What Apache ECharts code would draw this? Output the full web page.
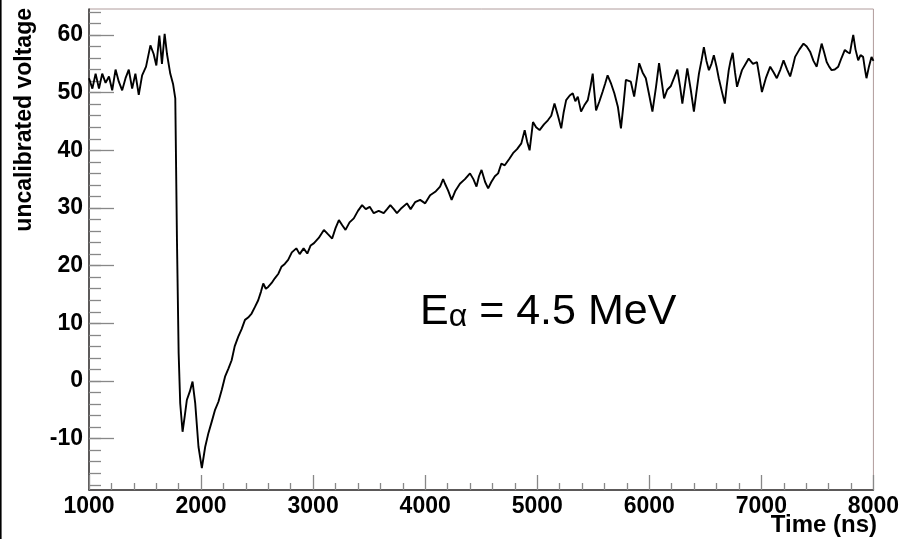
<!DOCTYPE html>
<html>
<head>
<meta charset="utf-8">
<script src="https://cdn.jsdelivr.net/npm/echarts@6/dist/echarts.min.js"></script>
<style>
html,body{margin:0;padding:0;background:#fff;}
#chart{width:902px;height:539px;}
</style>
</head>
<body>
<div id="chart"></div>
<script>
// Time samples (ns)
const times = [1000,1030,1059,1089,1118,1148,1178,1207,1237,1266,1296,1326,1355,1385,1414,1444,1474,1509,1548,1577,1601,1628,1651,1675,1696,1725,1750,1770,1785,1800,1814,1835,1855,1873,1900,1924,1948,1977,2007,2037,2066,2096,2125,2155,2185,2214,2245,2273,2300,2332,2362,2392,2420,2451,2480,2510,2535,2555,2578,2599,2630,2658,2690,2717,2747,2777,2810,2850,2880,2915,2948,2978,3008,3050,3096,3130,3170,3200,3230,3260,3289,3325,3363,3400,3437,3470,3505,3541,3585,3630,3660,3689,3720,3748,3790,3837,3870,3910,3955,4000,4044,4090,4133,4160,4177,4205,4236,4270,4310,4355,4400,4430,4458,4480,4503,4535,4562,4590,4622,4651,4680,4710,4750,4784,4820,4858,4888,4910,4932,4962,4990,5021,5060,5095,5125,5154,5185,5214,5235,5258,5290,5317,5340,5362,5391,5420,5451,5475,5495,5510,5525,5555,5584,5605,5628,5660,5688,5720,5747,5770,5791,5835,5865,5890,5910,5940,5969,6000,6028,6060,6087,6110,6132,6160,6191,6220,6250,6275,6295,6320,6339,6370,6398,6420,6443,6465,6487,6510,6532,6555,6576,6600,6620,6650,6674,6690,6709,6725,6744,6765,6783,6805,6827,6860,6887,6925,6961,6985,7005,7040,7079,7110,7138,7170,7198,7230,7257,7280,7301,7340,7376,7405,7435,7465,7494,7515,7538,7560,7583,7605,7627,7655,7686,7715,7745,7770,7790,7805,7820,7840,7864,7885,7908,7925,7938,7960,7983,8000];
// Uncalibrated voltage values
const voltage = [52.5,50.7,53.3,50.7,53.3,51.7,52.8,50.4,54.0,51.9,50.4,52.5,54.0,50.7,53.3,49.6,53.0,54.5,58.2,56.7,54.7,59.9,55.0,60.2,56.7,53.3,51.5,49.0,24.4,4.8,-3.9,-8.8,-6.0,-3.3,-1.8,-0.1,-3.9,-11.4,-15.1,-11.4,-9.0,-7.0,-5.0,-3.6,-1.5,0.75,2.2,3.6,6.0,7.7,9.0,10.6,11.0,11.7,12.8,14.0,15.5,16.9,16.0,16.3,17.0,17.8,18.6,19.8,20.3,21.0,22.3,23.0,22.0,23.0,22.1,23.5,23.9,24.8,26.2,25.5,24.7,26.5,27.9,27.0,26.2,27.5,28.2,29.5,30.5,29.8,30.2,29.1,29.5,29.1,29.8,30.5,29.8,29.1,30.0,30.8,29.8,31.0,31.4,30.8,32.2,32.8,33.7,35.0,34.2,33.0,31.4,33.0,34.2,35.0,36.0,35.0,33.7,35.5,36.6,34.5,33.4,34.5,35.5,36.0,37.7,37.4,38.5,39.5,40.2,41.2,43.5,41.5,40.0,44.9,44.0,43.5,44.5,45.2,46.0,48.1,46.0,43.8,46.5,48.7,49.5,49.9,48.5,49.3,46.7,47.8,48.7,51.0,53.3,50.0,46.9,48.5,50.2,51.5,53.0,51.5,49.9,47.5,43.8,48.0,52.2,51.9,49.3,52.5,55.1,53.5,52.5,49.5,46.7,51.0,55.1,52.0,49.0,50.5,51.1,52.5,54.0,51.0,48.1,51.5,54.2,50.5,46.7,50.0,53.3,55.5,57.9,55.5,53.9,55.0,56.5,54.5,52.5,50.0,48.1,51.0,53.9,55.5,56.9,53.5,51.0,52.5,53.9,55.0,55.9,55.0,55.3,52.5,50.1,52.5,54.5,53.5,52.5,54.0,55.6,54.0,52.8,54.5,56.2,57.5,58.5,58.0,57.1,55.5,54.5,56.5,58.5,57.0,55.3,54.5,53.9,54.0,54.5,56.0,57.4,57.0,56.8,58.5,60.0,57.5,55.6,56.5,56.2,54.0,52.5,54.5,56.2,55.5];

const yMajorTicks = [-10,0,10,20,30,40,50,60];
const yMinorTicks = [-18,-16,-14,-12,-10,-8,-6,-4,-2,0,2,4,6,8,10,12,14,16,18,20,22,24,26,28,30,32,34,36,38,40,42,44,46,48,50,52,54,56,58,60,62,64];
const xMajorTicks = [1000,2000,3000,4000,5000,6000,7000,8000];
const xMinorTicks = [1200,1400,1600,1800,2200,2400,2600,2800,3200,3400,3600,3800,4200,4400,4600,4800,5200,5400,5600,5800,6200,6400,6600,6800,7200,7400,7600,7800];

const FONT = "'Liberation Sans', Arial, Helvetica, sans-serif";
const Y_MIN = -18.9, Y_MAX = 64.5, X_MIN = 1000, X_MAX = 8000;

const chart = echarts.init(document.getElementById('chart'), null, {renderer: 'canvas'});
const seriesData = times.map((t, i) => [t, voltage[i]]);

chart.setOption({
  animation: false,
  backgroundColor: '#ffffff',
  grid: {left: 89, right: 25, top: 9, bottom: 49, show: true, borderColor: '#b09c9c', borderWidth: 1, backgroundColor: 'transparent'},
  xAxis: [
    {
      type: 'value', min: X_MIN, max: X_MAX, interval: 1000,
      axisLine: {show: true, onZero: false, lineStyle: {color: '#333', width: 1.5}},
      axisTick: {show: true, inside: true, length: 15, customValues: xMajorTicks, lineStyle: {color: '#888', width: 1.3}},
      axisLabel: {show: true, margin: 5, customValues: xMajorTicks, formatter: v => String(v), color: '#000', fontFamily: FONT, fontWeight: 'bold', fontSize: 23, showMinLabel: true, showMaxLabel: true},
      splitLine: {show: false}
    },
    {
      type: 'value', min: X_MIN, max: X_MAX, position: 'bottom', gridIndex: 0,
      axisLine: {show: false, onZero: false},
      axisTick: {show: true, inside: true, length: 7, customValues: xMinorTicks, lineStyle: {color: '#888', width: 1.3}},
      axisLabel: {show: false},
      splitLine: {show: false}
    }
  ],
  yAxis: [
    {
      type: 'value', min: Y_MIN, max: Y_MAX,
      axisLine: {show: true, onZero: false, lineStyle: {color: '#333', width: 1.5}},
      axisTick: {show: true, inside: true, length: 25, customValues: yMajorTicks, lineStyle: {color: '#888', width: 1.3}},
      axisLabel: {show: true, margin: 6, customValues: yMajorTicks, formatter: v => String(v), color: '#000', fontFamily: FONT, fontWeight: 'bold', fontSize: 23},
      splitLine: {show: false}
    },
    {
      type: 'value', min: Y_MIN, max: Y_MAX, position: 'left', gridIndex: 0,
      axisLine: {show: false, onZero: false},
      axisTick: {show: true, inside: true, length: 12, customValues: yMinorTicks, lineStyle: {color: '#888', width: 1.3}},
      axisLabel: {show: false},
      splitLine: {show: false}
    }
  ],
  series: [{
    type: 'line',
    xAxisIndex: 0, yAxisIndex: 0,
    data: seriesData,
    showSymbol: false,
    lineStyle: {color: '#000', width: 1.9},
    z: 5
  }],
  graphic: [
    {type: 'rect', shape: {x: 0, y: 0, width: 1.6, height: 539}, style: {fill: '#000'}},
    {type: 'text', x: 25, y: 8, rotation: Math.PI / 2,
      style: {text: 'uncalibrated voltage', fill: '#000', font: "bold 23px " + FONT, textAlign: 'right', textVerticalAlign: 'middle'}},
    {type: 'text', x: 877, y: 537,
      style: {text: 'Time (ns)', fill: '#000', font: "bold 24px " + FONT, textAlign: 'right', textVerticalAlign: 'bottom'}},
    {type: 'text', x: 420, y: 312,
      style: {
        text: '{e|E}{a|α}{e| = 4.5 MeV}',
        textVerticalAlign: 'middle',
        rich: {
          e: {fontFamily: FONT, fontSize: 43, fill: '#000', color: '#000'},
          a: {fontFamily: FONT, fontSize: 32, fill: '#000', color: '#000', verticalAlign: 'bottom'}
        }
      }}
  ]
});
</script>
</body>
</html>
